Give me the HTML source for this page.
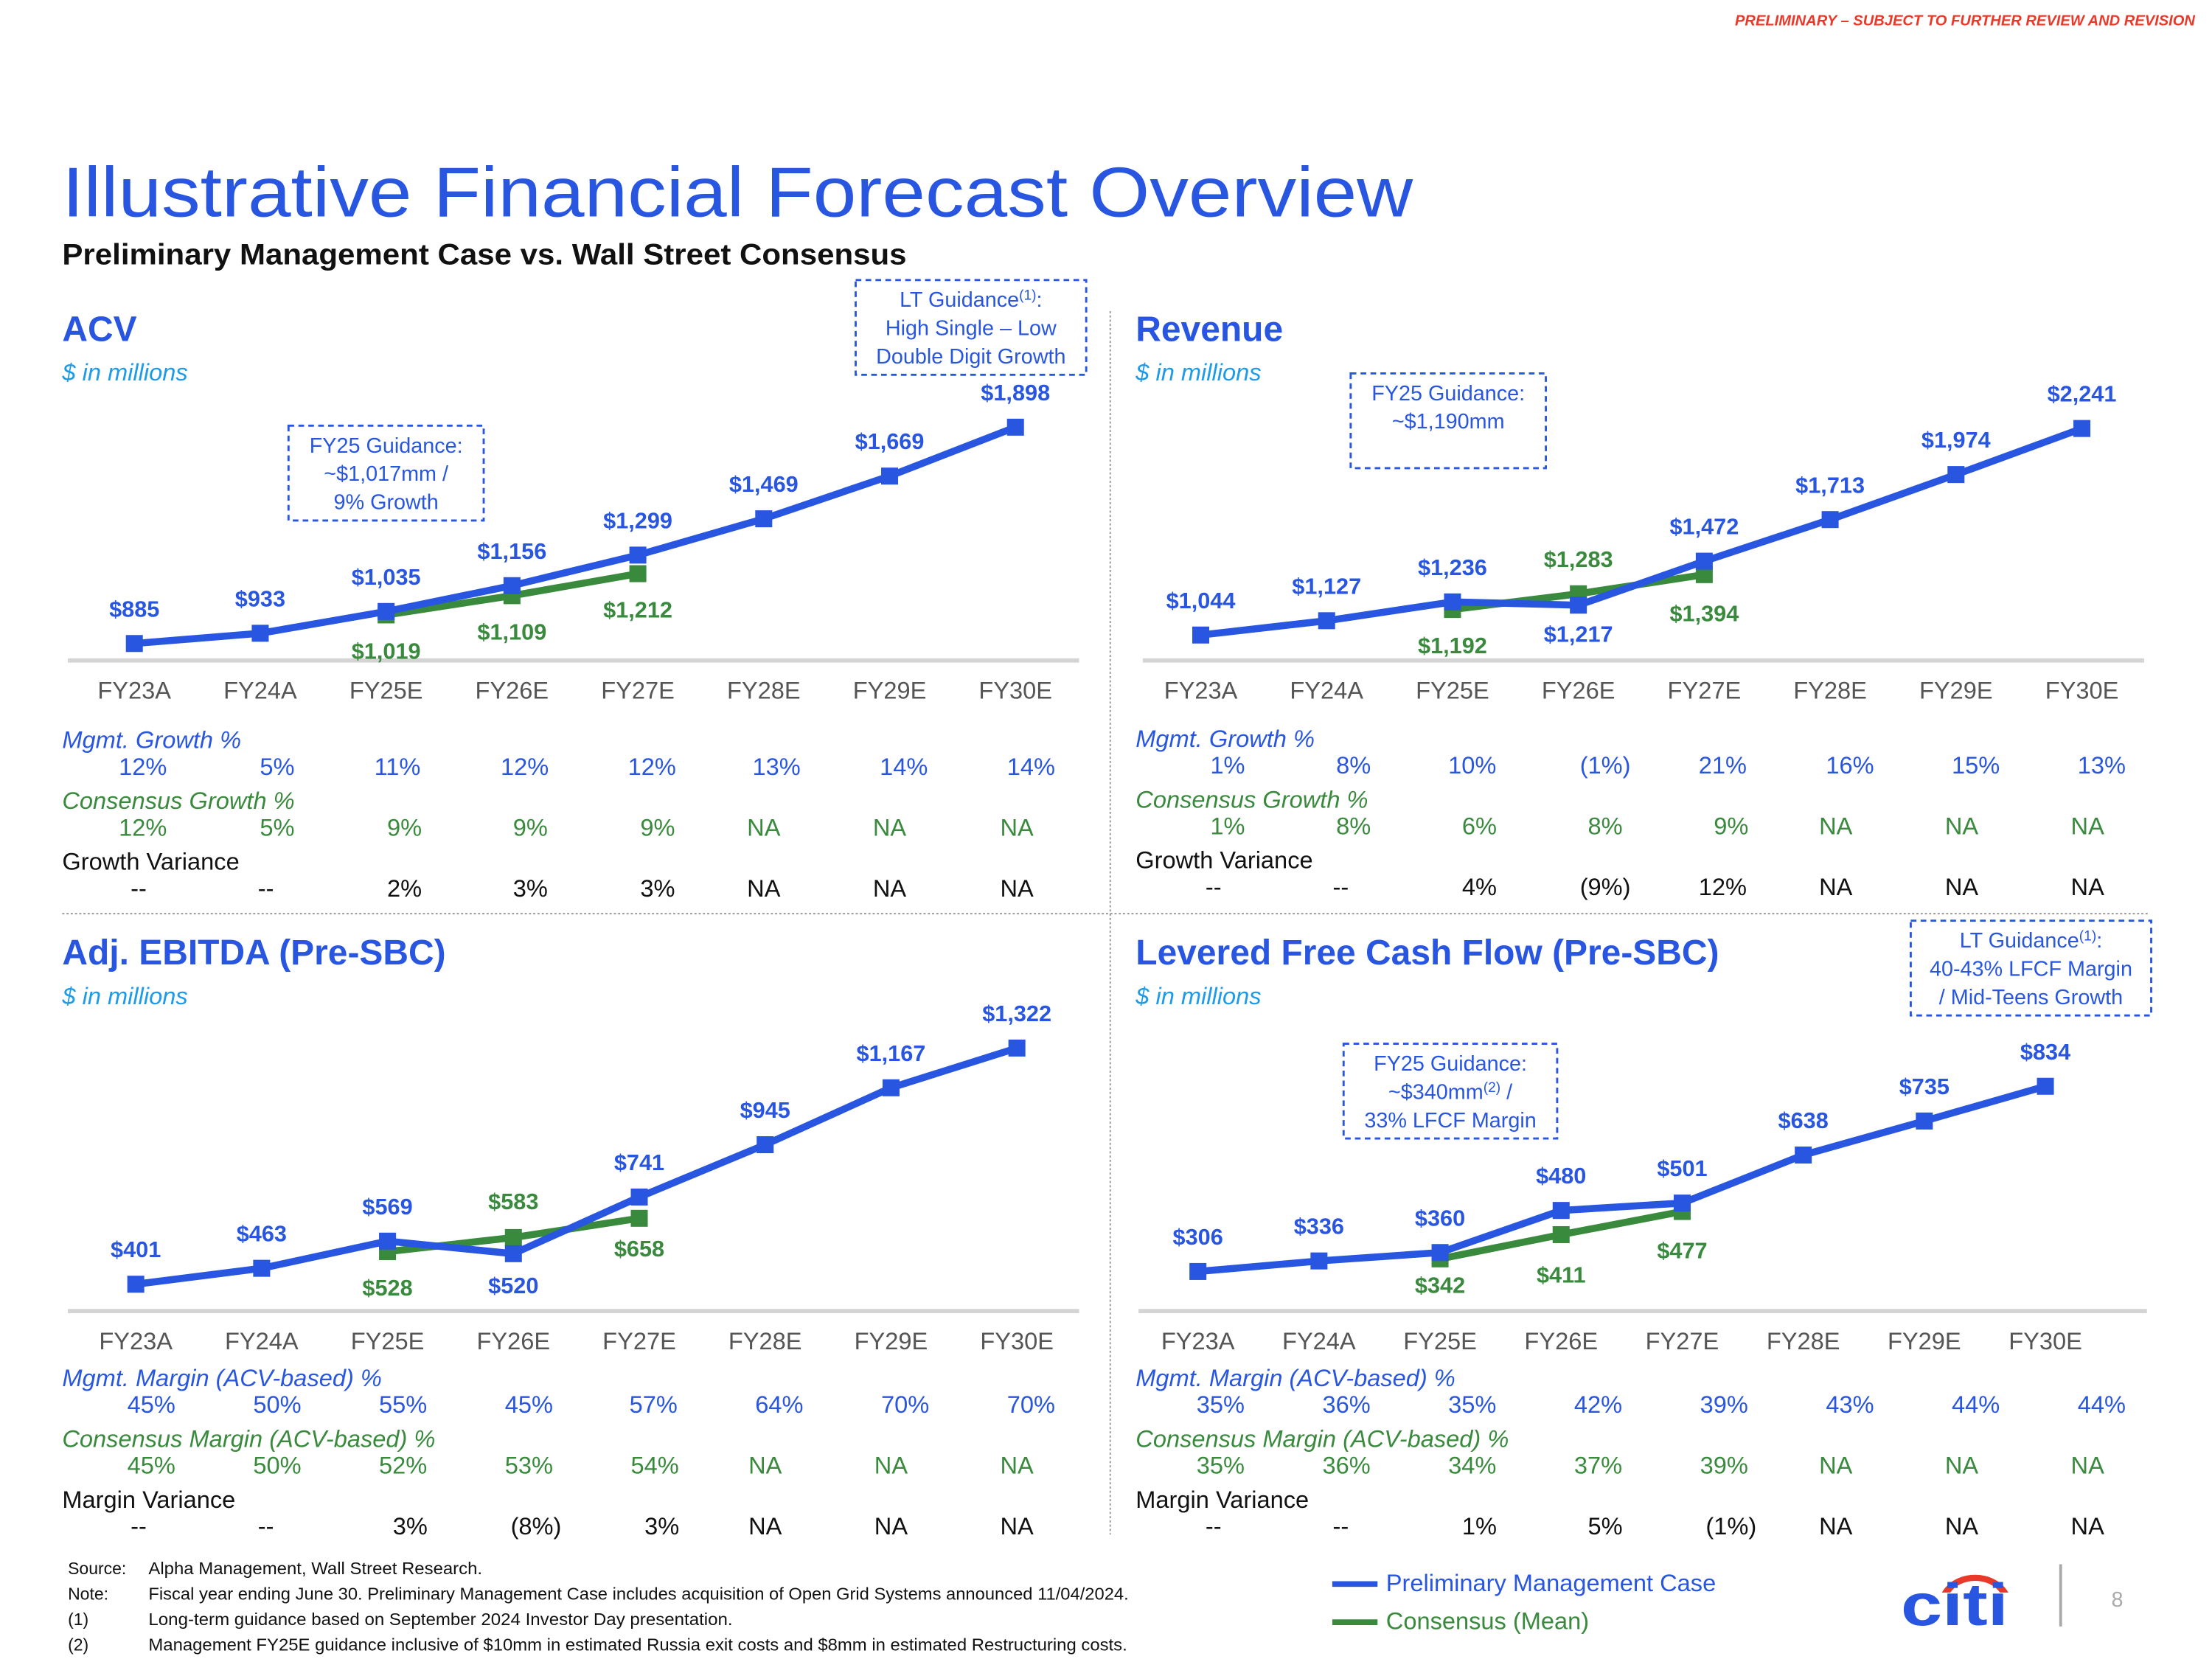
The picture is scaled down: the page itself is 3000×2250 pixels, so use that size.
<!DOCTYPE html>
<html><head><meta charset="utf-8"><style>
html,body{margin:0;padding:0;background:#fff;}
svg{display:block;font-family:"Liberation Sans",sans-serif;}
</style></head><body>
<svg id="s" width="3000" height="2250" viewBox="0 0 1564 1173" xmlns="http://www.w3.org/2000/svg">
<text x="1552" y="18" text-anchor="end" font-size="10.5" font-weight="bold" font-style="italic" fill="#e8392a">PRELIMINARY – SUBJECT TO FURTHER REVIEW AND REVISION</text>
<text x="44" y="153" font-size="50" fill="#2856e0" textLength="955" lengthAdjust="spacingAndGlyphs">Illustrative Financial Forecast Overview</text>
<text x="44" y="187" font-size="21" font-weight="bold" fill="#111" textLength="597" lengthAdjust="spacingAndGlyphs">Preliminary Management Case vs. Wall Street Consensus</text>
<line x1="785" y1="220" x2="785" y2="1085" stroke="#999" stroke-width="1" stroke-dasharray="1.5,1.5"/>
<line x1="44" y1="646" x2="1520" y2="646" stroke="#999" stroke-width="1" stroke-dasharray="1.5,1.5"/>
<g id="charts"></g>
<g font-size="12" fill="#111">
<text x="48" y="1113">Source:</text><text x="105" y="1113" textLength="236" lengthAdjust="spacingAndGlyphs">Alpha Management, Wall Street Research.</text>
<text x="48" y="1131">Note:</text><text x="105" y="1131" textLength="693" lengthAdjust="spacingAndGlyphs">Fiscal year ending June 30. Preliminary Management Case includes acquisition of Open Grid Systems announced 11/04/2024.</text>
<text x="48" y="1149">(1)</text><text x="105" y="1149" textLength="413" lengthAdjust="spacingAndGlyphs">Long-term guidance based on September 2024 Investor Day presentation.</text>
<text x="48" y="1167">(2)</text><text x="105" y="1167" textLength="692" lengthAdjust="spacingAndGlyphs">Management FY25E guidance inclusive of $10mm in estimated Russia exit costs and $8mm in estimated Restructuring costs.</text>
</g>
<g>
<line x1="942" y1="1120" x2="974" y2="1120" stroke="#2856e0" stroke-width="4"/>
<text x="980" y="1125" font-size="17" fill="#2856e0">Preliminary Management Case</text>
<line x1="942" y1="1147" x2="974" y2="1147" stroke="#3a8a3e" stroke-width="4"/>
<text x="980" y="1152" font-size="17" fill="#3a8a3e">Consensus (Mean)</text>
</g>
<g>
<path d="M1373 1126 A26 22 0 0 1 1420 1126 L1414 1126 A20 16 0 0 0 1379 1126 Z" fill="#e8392a"/>
<text x="1344" y="1149" font-size="42" font-weight="bold" fill="#2856e0" textLength="76" lengthAdjust="spacingAndGlyphs">citi</text>
</g>
<line x1="1457" y1="1106" x2="1457" y2="1150" stroke="#aaa" stroke-width="2"/>
<text x="1497" y="1136" font-size="15" fill="#aaa" text-anchor="middle">8</text>
</svg>
<script>
const years = ["FY23A","FY24A","FY25E","FY26E","FY27E","FY28E","FY29E","FY30E"];
const acvMgmt = [885,933,1035,1156,1299,1469,1669,1898];
const acvCons = [null,null,1019,1109,1212];
const revMgmt = [1044,1127,1236,1217,1472,1713,1974,2241];
const revCons = [null,null,1192,1283,1394];
const ebMgmt = [401,463,569,520,741,945,1167,1322];
const ebCons = [null,null,528,583,658];
const fcfMgmt = [306,336,360,480,501,638,735,834];
const fcfCons = [null,null,342,411,477];

const acvRow1 = ["12%","5%","11%","12%","12%","13%","14%","14%"];
const acvRow2 = ["12%","5%","9%","9%","9%","NA","NA","NA"];
const acvRow3 = ["--","--","2%","3%","3%","NA","NA","NA"];
const revRow1 = ["1%","8%","10%","(1%)","21%","16%","15%","13%"];
const revRow2 = ["1%","8%","6%","8%","9%","NA","NA","NA"];
const revRow3 = ["--","--","4%","(9%)","12%","NA","NA","NA"];
const ebRow1 = ["45%","50%","55%","45%","57%","64%","70%","70%"];
const ebRow2 = ["45%","50%","52%","53%","54%","NA","NA","NA"];
const ebRow3 = ["--","--","3%","(8%)","3%","NA","NA","NA"];
const fcfRow1 = ["35%","36%","35%","42%","39%","43%","44%","44%"];
const fcfRow2 = ["35%","36%","34%","37%","39%","NA","NA","NA"];
const fcfRow3 = ["--","--","1%","5%","(1%)","NA","NA","NA"];

const BLUE="#2856e0", GREEN="#3a8a3e", LB="#1e9be8";
const NS="http://www.w3.org/2000/svg";
const root=document.getElementById('charts');
function el(tag,attrs,parent,txt){const e=document.createElementNS(NS,tag);for(const k in attrs)e.setAttribute(k,attrs[k]);if(txt!==undefined)e.textContent=txt;(parent||root).appendChild(e);return e;}
function fmt(v){return "$"+v.toLocaleString("en-US");}

function panel(p){
  const g=el('g',{});
  
  
  const xs=i=>p.x0+i*p.dx;
  const ys=v=>p.yBase-(v-p.vBase)*p.k;
  const t=el('text',{x:p.tx,y:p.ty,'font-size':25,'font-weight':'bold',fill:BLUE},g,p.title);
  
  
  const u=el('text',{x:p.tx,y:p.ty+28,'font-size':17,'font-style':'italic',fill:LB},g,'$ in millions');
  
  
  const ax=el('line',{x1:p.ax1,x2:p.ax2,y1:p.axY,y2:p.axY,stroke:'#d4d4d4','stroke-width':3},g);
  
  
  years.forEach((y,i)=>{
    const tl=el('text',{x:xs(i),y:p.axY+27,'font-size':17,fill:'#555','text-anchor':'middle'},g,y);
    
    
  });
  function series(vals,color,nm,dys){
    const pts=[];vals.forEach((v,i)=>{if(v!=null)pts.push([xs(i),ys(v),v,i]);});
    const pl=el('polyline',{points:pts.map(q=>q[0]+','+q[1]).join(' '),fill:'none',stroke:color,'stroke-width':5,'stroke-linejoin':'round'},g);
    
    
    pts.forEach(q=>{
      const m=el('rect',{x:q[0]-6,y:q[1]-6,width:12,height:12,fill:color},g);
      
      
      const lb=el('text',{x:q[0],y:q[1]+dys[q[3]]+6,'font-size':16,'font-weight':'bold',fill:color,'text-anchor':'middle'},g,fmt(q[2]));
      
      
    });
  }
  series(p.cons,GREEN,'consensus',p.cDy);
  series(p.mgmt,BLUE,'management',p.mDy);
  const rows=[[p.l1,BLUE,p.r1,p.ry[0],p.px1],[p.l2,GREEN,p.r2,p.ry[1],p.px2],[p.l3,'#111',p.r3,p.ry[2],p.px3]];
  rows.forEach((r,ri)=>{
    const lt=el('text',{x:p.tx,y:r[3],'font-size':17,'font-style':ri<2?'italic':'normal',fill:r[1]},g,r[0]);
    
    
    r[2].forEach((v,i)=>{
      const vt=el('text',{x:r[4][i],y:r[3]+19,'font-size':17,fill:r[1],'text-anchor':'middle'},g,v);
      
      
    });
  });
}
function box(x,y,w,h,lines,name){
  const g=el('g',{});
  
  
  el('rect',{x:x,y:y,width:w,height:h,fill:'#fff',stroke:BLUE,'stroke-width':1.5,'stroke-dasharray':'4,3'},g);
  lines.forEach((l,i)=>{
    const t=el('text',{x:x+w/2,y:y+19+i*20,'font-size':15,fill:BLUE,'text-anchor':'middle'},g);
    t.innerHTML=l;
  });
}
const sup='<tspan font-size="10" dy="-5">(1)</tspan><tspan dy="5">:</tspan>';
const up=-25, dn=25;
panel({name:'acv',title:'ACV',tx:44,ty:241,x0:95,dx:89,yBase:455,vBase:885,k:0.151,axY:467,ax1:48,ax2:763,
  mgmt:acvMgmt,cons:acvCons,mDy:[up,up,up,up,up,up,up,up],cDy:[0,0,dn,dn,dn],
  l1:'Mgmt. Growth %',l2:'Consensus Growth %',l3:'Growth Variance',r1:acvRow1,r2:acvRow2,r3:acvRow3,ry:[529,572,615],
  px1:[101,196,281,371,461,549,639,729],px2:[101,196,286,375,465,540,629,719],px3:[98,188,286,375,465,540,629,719]});
panel({name:'revenue',title:'Revenue',tx:803,ty:241,x0:849,dx:89,yBase:449,vBase:1044,k:0.122,axY:467,ax1:808,ax2:1516,
  mgmt:revMgmt,cons:revCons,mDy:[up,up,up,dn-5,up,up,up,up],cDy:[0,0,dn,-25,27],
  l1:'Mgmt. Growth %',l2:'Consensus Growth %',l3:'Growth Variance',r1:revRow1,r2:revRow2,r3:revRow3,ry:[528,571,614],
  px1:[868,957,1041,1135,1218,1308,1397,1486],px2:[868,957,1046,1135,1224,1298,1387,1476],px3:[858,948,1046,1135,1218,1298,1387,1476]});
panel({name:'ebitda',title:'Adj. EBITDA (Pre-SBC)',tx:44,ty:682,x0:96,dx:89,yBase:908,vBase:401,k:0.1813,axY:927,ax1:48,ax2:763,
  mgmt:ebMgmt,cons:ebCons,mDy:[up,up,up,22,up,up,up,up],cDy:[0,0,dn,-26,21],
  l1:'Mgmt. Margin (ACV-based) %',l2:'Consensus Margin (ACV-based) %',l3:'Margin Variance',r1:ebRow1,r2:ebRow2,r3:ebRow3,ry:[980,1023,1066],
  px1:[107,196,285,374,462,551,640,729],px2:[107,196,285,374,463,541,630,719],px3:[98,188,290,379,468,541,630,719]});
panel({name:'lfcf',title:'Levered Free Cash Flow (Pre-SBC)',tx:803,ty:682,x0:847,dx:85.6,yBase:899,vBase:306,k:0.248,axY:927,ax1:805,ax2:1518,
  mgmt:fcfMgmt,cons:fcfCons,mDy:[up,up,up,up,up,up,up,up],cDy:[0,0,18,28,27],
  l1:'Mgmt. Margin (ACV-based) %',l2:'Consensus Margin (ACV-based) %',l3:'Margin Variance',r1:fcfRow1,r2:fcfRow2,r3:fcfRow3,ry:[980,1023,1066],
  px1:[863,952,1041,1130,1219,1308,1397,1486],px2:[863,952,1041,1130,1219,1298,1387,1476],px3:[858,948,1046,1135,1224,1298,1387,1476]});
box(605,198,163,67,['LT Guidance'+sup,'High Single – Low','Double Digit Growth'],'acv-lt-guidance-box');
box(204,301,138,67,['FY25 Guidance:','~$1,017mm /','9% Growth'],'acv-fy25-guidance-box');
box(955,264,138,67,['FY25 Guidance:','~$1,190mm'],'revenue-fy25-guidance-box');
box(1351,651,170,67,['LT Guidance'+sup,'40-43% LFCF Margin','/ Mid-Teens Growth'],'lfcf-lt-guidance-box');
box(950,738,151,67,['FY25 Guidance:','~$340mm<tspan font-size="10" dy="-5">(2)</tspan><tspan dy="5"> /</tspan>','33% LFCF Margin'],'lfcf-fy25-guidance-box');
</script>
</body></html>
